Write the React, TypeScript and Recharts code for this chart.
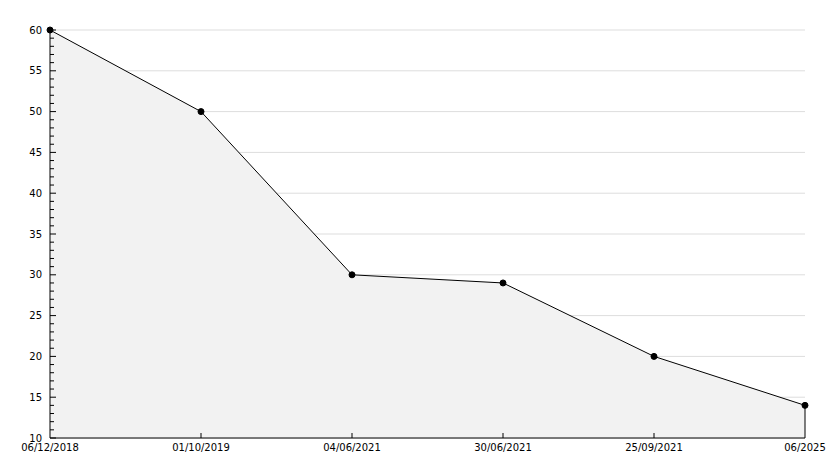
import React from 'react';
import { ComposedChart, Area, XAxis, YAxis, CartesianGrid, ReferenceLine } from 'recharts';

const categories = ['06/12/2018', '01/10/2019', '04/06/2021', '30/06/2021', '25/09/2021', '06/2025'];
const values = [60, 50, 30, 29, 20, 14];
const majorTicks = [10, 15, 20, 25, 30, 35, 40, 45, 50, 55, 60];
const yMin = 10;
const yMax = 60;
const minorTicks: number[] = [];
for (let v = yMin; v <= yMax; v += 1) if (majorTicks.indexOf(v) < 0) minorTicks.push(v);

const data = categories.map((c, i) => ({ date: c, value: values[i] }));

const font = { fontFamily: 'DejaVu Sans', fontSize: 10, fill: '#000' };

const hTick = (len: number) => (p: any) => {
  const x0 = Math.min(p.x1, p.x2);
  return <line x1={x0} y1={p.y1} x2={x0 + len} y2={p.y1} stroke="#000" strokeWidth={1} />;
};
const vTick = (len: number) => (p: any) => {
  const y0 = Math.max(p.y1, p.y2);
  return <line x1={p.x1} y1={y0} x2={p.x1} y2={y0 - len} stroke="#000" strokeWidth={1} />;
};

export default function App() {
  const last = categories[categories.length - 1];
  return (
    <div style={{ position: 'absolute', left: 0, top: 0 }}>
      <ComposedChart
        width={834}
        height={468}
        data={data}
        margin={{ top: 30, right: 29, bottom: 0, left: 0 }}
      >
        <CartesianGrid horizontal vertical={false} stroke="#dddddd" />
        <XAxis
          dataKey="date"
          type="category"
          height={30}
          tickLine={false}
          tickSize={0}
          tickMargin={6}
          axisLine={{ stroke: '#000' }}
          tick={font}
          interval={0}
        />
        <YAxis
          type="number"
          domain={[yMin, yMax]}
          ticks={majorTicks}
          width={50}
          tickLine={false}
          tickSize={0}
          tickMargin={8}
          axisLine={{ stroke: '#000' }}
          tick={font}
          interval={0}
        />
        <Area
          type="linear"
          dataKey="value"
          baseValue={yMin}
          fill="#f2f2f2"
          fillOpacity={1}
          stroke="#000"
          strokeWidth={1}
          dot={{ r: 3, fill: '#000', stroke: '#000', strokeWidth: 1 }}
          activeDot={false}
          isAnimationActive={false}
        />
        <ReferenceLine
          segment={[{ x: last, y: yMin }, { x: last, y: values[values.length - 1] }]}
          stroke="#000"
          strokeWidth={1}
        />
        {minorTicks.map((v) => (
          <ReferenceLine key={'mn' + v} y={v} shape={hTick(4)} />
        ))}
        {majorTicks.map((v) => (
          <ReferenceLine key={'mj' + v} y={v} shape={hTick(6)} />
        ))}
        {categories.slice(1, -1).map((c) => (
          <ReferenceLine key={'x' + c} x={c} shape={vTick(5)} />
        ))}
      </ComposedChart>
    </div>
  );
}
